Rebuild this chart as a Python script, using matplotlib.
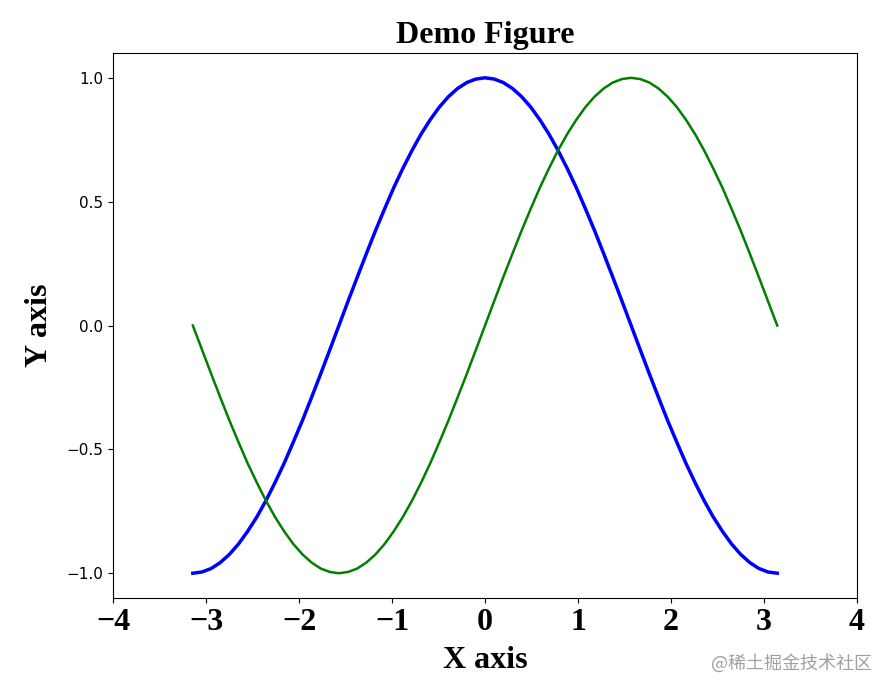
import matplotlib.pyplot as plt

# values (x step about 0.098)
x_vals = [-3.142, -3.043, -2.945, -2.847, -2.749, -2.651, -2.553, -2.454,
          -2.356, -2.258, -2.160, -2.062, -1.963, -1.865, -1.767, -1.669,
          -1.571, -1.473, -1.374, -1.276, -1.178, -1.080, -0.982, -0.884,
          -0.785, -0.687, -0.589, -0.491, -0.393, -0.295, -0.196, -0.098,
          0.000,
          0.098, 0.196, 0.295, 0.393, 0.491, 0.589, 0.687, 0.785,
          0.884, 0.982, 1.080, 1.178, 1.276, 1.374, 1.473, 1.571,
          1.669, 1.767, 1.865, 1.963, 2.062, 2.160, 2.258, 2.356,
          2.454, 2.553, 2.651, 2.749, 2.847, 2.945, 3.043, 3.142]
blue_vals = [-1.000, -0.995, -0.981, -0.957, -0.924, -0.882, -0.831, -0.773,
             -0.707, -0.634, -0.556, -0.471, -0.383, -0.290, -0.195, -0.098,
             0.000, 0.098, 0.195, 0.290, 0.383, 0.471, 0.556, 0.634,
             0.707, 0.773, 0.831, 0.882, 0.924, 0.957, 0.981, 0.995,
             1.000,
             0.995, 0.981, 0.957, 0.924, 0.882, 0.831, 0.773, 0.707,
             0.634, 0.556, 0.471, 0.383, 0.290, 0.195, 0.098, 0.000,
             -0.098, -0.195, -0.290, -0.383, -0.471, -0.556, -0.634, -0.707,
             -0.773, -0.831, -0.882, -0.924, -0.957, -0.981, -0.995, -1.000]
green_vals = [0.000, -0.098, -0.195, -0.290, -0.383, -0.471, -0.556, -0.634,
              -0.707, -0.773, -0.831, -0.882, -0.924, -0.957, -0.981, -0.995,
              -1.000, -0.995, -0.981, -0.957, -0.924, -0.882, -0.831, -0.773,
              -0.707, -0.634, -0.556, -0.471, -0.383, -0.290, -0.195, -0.098,
              0.000,
              0.098, 0.195, 0.290, 0.383, 0.471, 0.556, 0.634, 0.707,
              0.773, 0.831, 0.882, 0.924, 0.957, 0.981, 0.995, 1.000,
              0.995, 0.981, 0.957, 0.924, 0.882, 0.831, 0.773, 0.707,
              0.634, 0.556, 0.471, 0.383, 0.290, 0.195, 0.098, 0.000]
x_ticks = [-4, -3, -2, -1, 0, 1, 2, 3, 4]
y_ticks = [-1.0, -0.5, 0.0, 0.5, 1.0]

serif_bold = {'family': 'Liberation Serif', 'weight': 'bold'}

fig = plt.figure(figsize=(8.79, 6.80), dpi=100)
ax = fig.add_axes([0.1286, 0.1206, 0.8464, 0.8014])

ax.plot(x_vals, blue_vals, color='blue', linewidth=2.5)
ax.plot(x_vals, green_vals, color='green', linewidth=1.8)

ax.set_xlim(-4, 4)
ax.set_ylim(-1.1, 1.1)
ax.set_xticks(x_ticks)
ax.set_xticklabels(['\u2212' + str(-t) if t < 0 else str(t) for t in x_ticks],
                   fontdict=dict(serif_bold, size=23))
ax.set_yticks(y_ticks)
ax.set_yticklabels(['\u2212%.1f' % -t if t < 0 else '%.1f' % t for t in y_ticks])
ax.tick_params(axis='y', labelsize=11)

ax.set_title('Demo Figure', fontdict=dict(serif_bold, size=23), pad=7)
ax.set_xlabel('X axis', fontdict=dict(serif_bold, size=23), labelpad=7)
ax.set_ylabel('Y axis', fontdict=dict(serif_bold, size=23))
ax.yaxis.set_label_coords(-0.08, 0.5)

# site watermark in the corner
fig.text(0.992, 0.025, '@稀土掘金技术社区', ha='right', va='center',
         fontsize=13, color='#a0a0a0', family='Noto Sans CJK SC')

plt.savefig('out.png', dpi=100)
